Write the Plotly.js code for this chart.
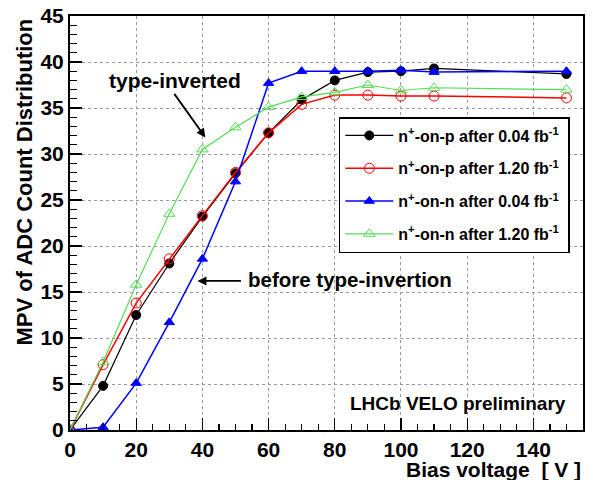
<!DOCTYPE html>
<html><head><meta charset="utf-8">
<script src="https://cdn.plot.ly/plotly-3.0.1.min.js"></script>
<style>body{margin:0;background:#fff}#c{width:593px;height:480px}</style>
</head><body><div id="c"></div>
<script>
var voltage = [0, 10, 20, 30, 40, 50, 60, 70, 80, 90, 100, 110, 150];
var nOnP_004 = [0, 4.8, 12.5, 18.1, 23.2, 27.9, 32.3, 35.9, 38.0, 38.9, 39.0, 39.3, 38.7];
var nOnP_120 = [0, 7.1, 13.8, 18.6, 23.3, 28.0, 32.3, 35.4, 36.4, 36.4, 36.3, 36.3, 36.1];
var nOnN_004 = [0, 0.3, 5.1, 11.7, 18.6, 27.0, 37.7, 39.0, 39.0, 39.0, 39.1, 38.9, 39.0];
var nOnN_120 = [0, 7.4, 15.8, 23.5, 30.5, 32.9, 35.1, 36.2, 36.7, 37.5, 36.9, 37.2, 37.0];
var names = ["<b>n<sup>+</sup>-on-p after 0.04 fb<sup>-1</sup></b>&nbsp;",
             "<b>n<sup>+</sup>-on-p after 1.20 fb<sup>-1</sup></b>&nbsp;",
             "<b>n<sup>+</sup>-on-n after 0.04 fb<sup>-1</sup></b>&nbsp;",
             "<b>n<sup>+</sup>-on-n after 1.20 fb<sup>-1</sup></b>&nbsp;"];
var F = "Liberation Sans";
function tr(y, name, color, sym, msize, lw, g){
  return {x: voltage, y: y, name: name, type: "scatter", mode: "lines+markers",
    legendgroup: g,
    line: {color: color, width: lw},
    marker: {symbol: sym, size: msize, color: color, line: {color: color, width: 1}}};
}
var data = [
  tr(nOnP_004, names[0], "#000000", "circle", 9, 1.2, "a"),
  tr(nOnP_120, names[1], "#ff0000", "circle-open", 10, 1.5, "b"),
  tr(nOnN_004, names[2], "#0000ff", "triangle-up", 9, 1.5, "c"),
  tr(nOnN_120, names[3], "#55dd55", "triangle-up-open", 10, 1.2, "d")
];
var axCommon = {
  showline: true, mirror: true, linecolor: "#000", linewidth: 2,
  ticks: "inside", ticklen: 12, tickwidth: 1.2, tickcolor: "#000",
  showgrid: true, gridcolor: "#999", griddash: "dot", gridwidth: 1,
  zeroline: false, tickprefix: "<b>", ticksuffix: "</b>",
  tickfont: {family: F, size: 21, color: "#000"}
};
var layout = {
  width: 593, height: 480,
  margin: {l: 70, r: 10, t: 16, b: 50},
  paper_bgcolor: "#fff", plot_bgcolor: "#fff",
  showlegend: true,
  xaxis: Object.assign({}, axCommon, {range: [0, 155], dtick: 20, tick0: 0, ticklabelstandoff: 0,
    minor: {dtick: 5, ticklen: 6, ticks: "inside", tickcolor: "#000", showgrid: false}}),
  yaxis: Object.assign({}, axCommon, {range: [0, 45], dtick: 5, tick0: 0,
    minor: {dtick: 1, ticklen: 7, ticks: "inside", tickcolor: "#000", showgrid: false}}),
  legend: {x: 0.524, y: 0.756, xanchor: "left", yanchor: "top",
    bgcolor: "#fff", bordercolor: "#000", borderwidth: 1.5,
    traceorder: "grouped", tracegroupgap: 9, itemwidth: 48,
    font: {family: F, size: 16, color: "#000"}},
  annotations: [
    {xref: "paper", yref: "paper", x: 1, y: -0.095, xanchor: "right", yanchor: "middle",
     text: "<b>Bias voltage  [ V ]</b>", showarrow: false,
     font: {family: F, size: 21, color: "#000"}},
    {xref: "paper", yref: "paper", x: -0.088, y: 0.6, xanchor: "center", yanchor: "middle",
     text: "<b>MPV of ADC Count Distribution</b>", showarrow: false, textangle: -90,
     font: {family: F, size: 22, color: "#000"}},
    {xref: "x", yref: "y", x: 31.8, y: 38.0, text: "<b>type-inverted</b>", showarrow: false,
     font: {family: F, size: 21, color: "#000"}},
    {xref: "x", yref: "y", x: 40.9, y: 31.8, axref: "x", ayref: "y", ax: 31.2, ay: 36.7,
     text: "", showarrow: true, arrowhead: 2, arrowsize: 1, arrowwidth: 1.8, arrowcolor: "#000"},
    {xref: "x", yref: "y", x: 53.3, y: 16.4, xanchor: "left", text: "<b>before type-invertion</b>", showarrow: false,
     font: {family: F, size: 20.5, color: "#000"}},
    {xref: "x", yref: "y", x: 38.5, y: 16.2, axref: "x", ayref: "y", ax: 52.1, ay: 16.2,
     text: "", showarrow: true, arrowhead: 2, arrowsize: 1, arrowwidth: 1.8, arrowcolor: "#000"},
    {xref: "paper", yref: "y", x: 0.971, y: 2.9, xanchor: "right", text: "<b>LHCb VELO preliminary</b>", showarrow: false,
     font: {family: F, size: 19, color: "#000"}}
  ]
};
Plotly.newPlot("c", data, layout, {staticPlot: true, displayModeBar: false});
</script></body></html>
